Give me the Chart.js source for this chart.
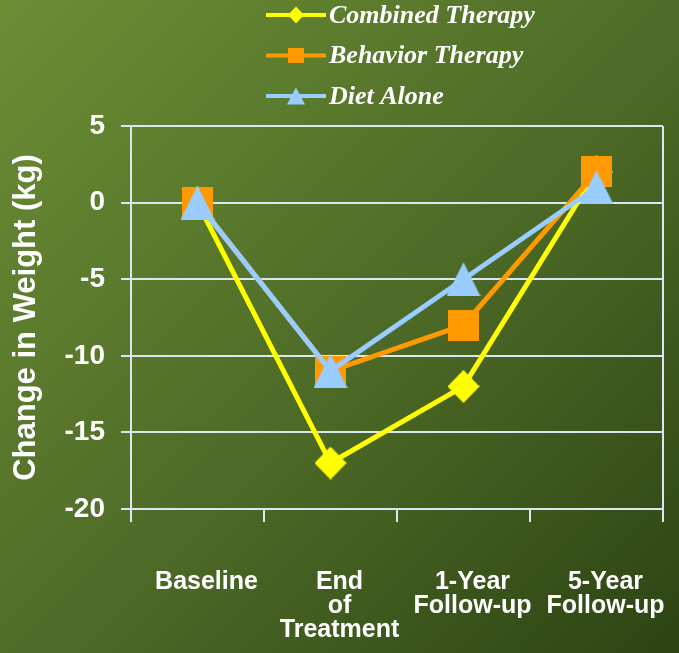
<!DOCTYPE html>
<html>
<head>
<meta charset="utf-8">
<script src="https://cdn.jsdelivr.net/npm/chart.js@4.4.1/dist/chart.umd.min.js"></script>
<style>
  html, body { margin: 0; padding: 0; }
  body {
    width: 679px; height: 653px; overflow: hidden;
    background: linear-gradient(135deg, #6C8E35 0%, #4F6D28 50%, #2C4413 100%);
  }
  canvas { display: block; }
</style>
</head>
<body>
<canvas id="chart" width="679" height="653"></canvas>
<script>
// Time points (multi-line labels) and weight change per treatment group, in kg
const categories = ['Baseline', ['End', 'of', 'Treatment'], ['1-Year', 'Follow-up'], ['5-Year', 'Follow-up']];
const seriesNames = ['Combined Therapy', 'Behavior Therapy', 'Diet Alone'];
const combinedTherapy = [0, -17, -12, 2];
const behaviorTherapy = [0, -11, -8, 2];
const dietAlone = [0, -11, -5, 1];
const yTicks = [5, 0, -5, -10, -15, -20];

const WHITE = '#FFFFFF';
const GRID = '#DCE6F0';
const YELLOW = '#FFFF00';
const ORANGE = '#FF9900';
const BLUE = '#99CCFF';

function markerPath(ctx, shape, cx, cy, w, h) {
  ctx.beginPath();
  if (shape === 'diamond') {
    ctx.moveTo(cx, cy - h / 2);
    ctx.lineTo(cx + w / 2, cy);
    ctx.lineTo(cx, cy + h / 2);
    ctx.lineTo(cx - w / 2, cy);
  } else if (shape === 'triangle') {
    ctx.moveTo(cx, cy - h / 2);
    ctx.lineTo(cx + w / 2, cy + h / 2);
    ctx.lineTo(cx - w / 2, cy + h / 2);
  } else {
    ctx.rect(cx - w / 2, cy - h / 2, w, h);
  }
  ctx.closePath();
}

function markerImage(shape, w, h, color) {
  const c = document.createElement('canvas');
  c.width = w; c.height = h;
  const g = c.getContext('2d');
  g.fillStyle = color;
  markerPath(g, shape, w / 2, h / 2, w, h);
  g.fill();
  return c;
}

// Legend stacked in a column above the plot: line sample with marker, then name
const stackedLegend = {
  id: 'stackedLegend',
  afterDraw(chart, args, opts) {
    const ctx = chart.ctx;
    ctx.save();
    chart.data.datasets.forEach((ds, i) => {
      const y = opts.top + i * opts.rowGap;
      ctx.strokeStyle = ds.borderColor;
      ctx.lineWidth = 4;
      ctx.beginPath();
      ctx.moveTo(opts.left, y);
      ctx.lineTo(opts.left + opts.lineLength, y);
      ctx.stroke();
      ctx.fillStyle = ds.borderColor;
      const m = ds.legendMarker;
      markerPath(ctx, m.shape, opts.left + opts.lineLength / 2, y, m.w, m.h);
      ctx.fill();
      ctx.fillStyle = WHITE;
      ctx.font = 'italic bold 26px "Liberation Serif", "Times New Roman", serif';
      ctx.textAlign = 'left';
      ctx.textBaseline = 'middle';
      ctx.fillText(ds.label, opts.left + opts.lineLength + 3, y + 1);
    });
    ctx.restore();
  }
};

const sansBold = (size, lh) => ({ family: '"Liberation Sans", Arial, sans-serif', weight: 'bold', size, lineHeight: lh });

new Chart(document.getElementById('chart'), {
  type: 'line',
  data: {
    labels: categories,
    datasets: [
      {
        label: seriesNames[0], data: combinedTherapy,
        borderColor: YELLOW, backgroundColor: YELLOW,
        pointStyle: markerImage('diamond', 32, 33, YELLOW),
        legendMarker: { shape: 'diamond', w: 16, h: 17 },
        order: 3
      },
      {
        label: seriesNames[1], data: behaviorTherapy,
        borderColor: ORANGE, backgroundColor: ORANGE,
        pointStyle: markerImage('square', 31, 31, ORANGE),
        legendMarker: { shape: 'square', w: 16, h: 15 },
        order: 2
      },
      {
        label: seriesNames[2], data: dietAlone,
        borderColor: BLUE, backgroundColor: BLUE,
        pointStyle: markerImage('triangle', 34, 34, BLUE),
        legendMarker: { shape: 'triangle', w: 18, h: 17 },
        order: 1
      }
    ]
  },
  options: {
    responsive: false,
    animation: false,
    devicePixelRatio: 1,
    layout: { padding: { top: 126, right: 16, bottom: 0, left: 0 } },
    elements: {
      line: { tension: 0, borderWidth: 5, fill: false },
      point: { radius: 16, borderWidth: 0, hoverRadius: 16 }
    },
    plugins: {
      legend: { display: false },
      tooltip: { enabled: false },
      stackedLegend: { left: 266, lineLength: 60, top: 15, rowGap: 40.5 }
    },
    scales: {
      x: {
        offset: true,
        afterFit: (s) => { s.height = 144; s.paddingLeft = 0; s.paddingRight = 0; },
        grid: {
          offset: true,
          drawOnChartArea: true,
          color: (c) => (c.type === 'scale' || c.index === 0) ? GRID : 'rgba(0,0,0,0)',
          tickColor: GRID,
          tickLength: 13,
          lineWidth: 2
        },
        border: { display: true, color: GRID, width: 2 },
        ticks: {
          color: WHITE,
          font: sansBold(25, '24px'),
          padding: 48,
          labelOffset: 9,
          autoSkip: false,
          maxRotation: 0,
          minRotation: 0
        }
      },
      y: {
        min: Math.min(...yTicks),
        max: Math.max(...yTicks),
        afterFit: (s) => { s.width = 131; },
        grid: { color: GRID, tickColor: GRID, tickLength: 10, lineWidth: 2 },
        border: { display: true, color: GRID, width: 2 },
        ticks: {
          stepSize: 5,
          color: WHITE,
          font: sansBold(28, 1.2),
          padding: 16
        },
        title: {
          display: true,
          text: 'Change in Weight (kg)',
          color: WHITE,
          font: sansBold(31, 1.2),
          padding: { top: 8, bottom: 0 }
        }
      }
    }
  },
  plugins: [stackedLegend]
});
</script>
</body>
</html>
